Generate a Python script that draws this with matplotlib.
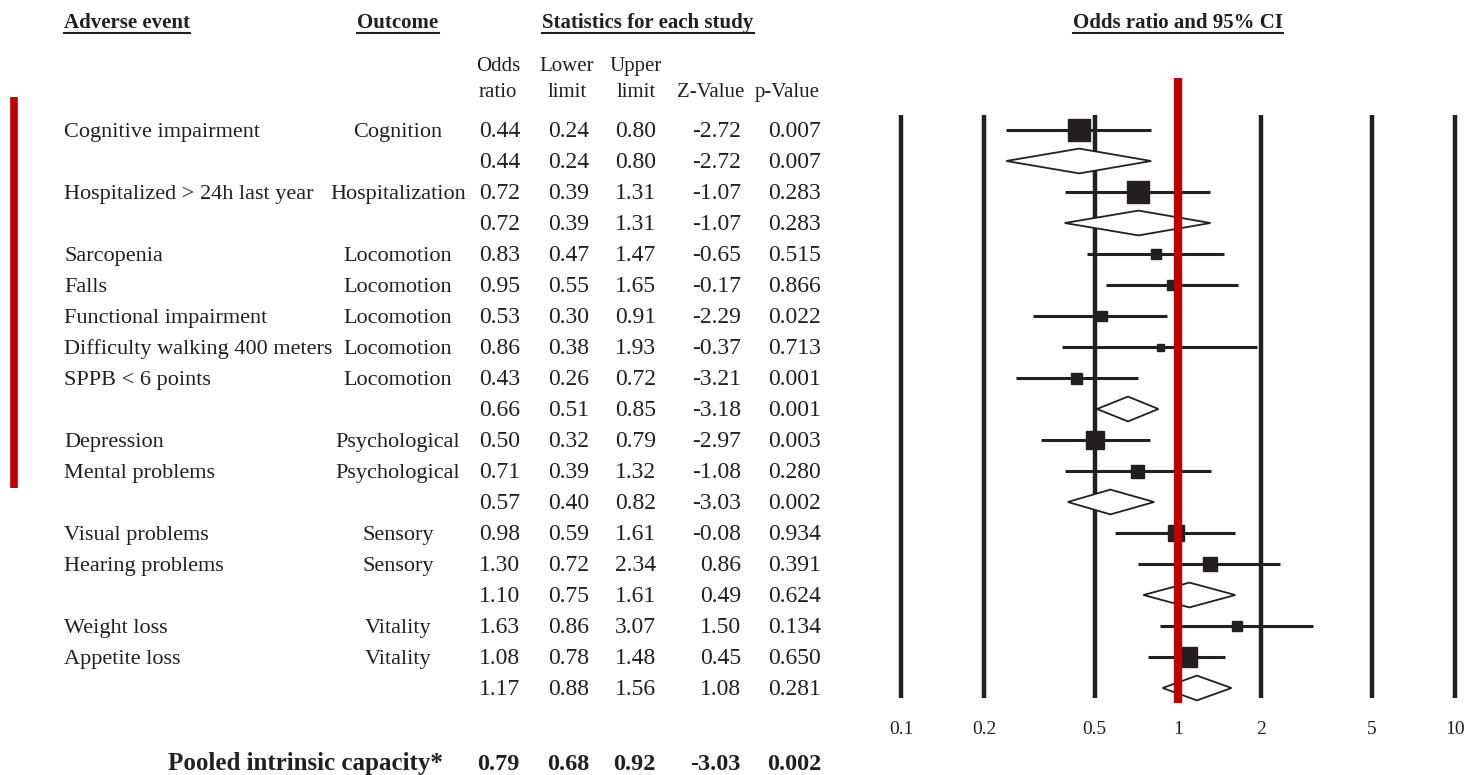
import matplotlib
matplotlib.use("Agg")
import matplotlib.pyplot as plt
from matplotlib.lines import Line2D

plt.rcParams["font.family"] = ["Liberation Serif", "DejaVu Serif"]

# one entry per row; empty event name = pooled (diamond) row
events = ["Cognitive impairment", "", "Hospitalized > 24h last year", "",
          "Sarcopenia", "Falls", "Functional impairment",
          "Difficulty walking 400 meters", "SPPB < 6 points", "",
          "Depression", "Mental problems", "",
          "Visual problems", "Hearing problems", "",
          "Weight loss", "Appetite loss", ""]
outcomes = ["Cognition", "", "Hospitalization", "",
            "Locomotion", "Locomotion", "Locomotion", "Locomotion", "Locomotion", "",
            "Psychological", "Psychological", "",
            "Sensory", "Sensory", "",
            "Vitality", "Vitality", ""]
odds = [0.44, 0.44, 0.72, 0.72, 0.83, 0.95, 0.53, 0.86, 0.43, 0.66,
        0.50, 0.71, 0.57, 0.98, 1.30, 1.10, 1.63, 1.08, 1.17]
lower = [0.24, 0.24, 0.39, 0.39, 0.47, 0.55, 0.30, 0.38, 0.26, 0.51,
         0.32, 0.39, 0.40, 0.59, 0.72, 0.75, 0.86, 0.78, 0.88]
upper = [0.80, 0.80, 1.31, 1.31, 1.47, 1.65, 0.91, 1.93, 0.72, 0.85,
         0.79, 1.32, 0.82, 1.61, 2.34, 1.61, 3.07, 1.48, 1.56]
zvals = [-2.72, -2.72, -1.07, -1.07, -0.65, -0.17, -2.29, -0.37, -3.21, -3.18,
         -2.97, -1.08, -3.03, -0.08, 0.86, 0.49, 1.50, 0.45, 1.08]
pvals = [0.007, 0.007, 0.283, 0.283, 0.515, 0.866, 0.022, 0.713, 0.001, 0.001,
         0.003, 0.280, 0.002, 0.934, 0.391, 0.624, 0.134, 0.650, 0.281]
# relative study weight (box size)
weights = [23, 0, 23, 0, 10, 10, 10, 7, 11, 0, 18, 13, 0, 16, 14, 0, 10, 20, 0]

overall_label = "Pooled intrinsic capacity*"
overall = [0.79, 0.68, 0.92, -3.03, 0.002]

ticks = [0.1, 0.2, 0.5, 1, 2, 5, 10]
tick_labels = ["0.1", "0.2", "0.5", "1", "2", "5", "10"]

W, H = 1470, 775
INK = "#231f20"
RED = "#c00000"
FS = 16      # row labels
FSN = 17     # numbers
FSH = 15     # headers

fig = plt.figure(figsize=(W / 100, H / 100), dpi=100)

# rows are 31px apart, first row centred at y=130px
def r_of(py):
    return (py - 130) / 31.0

def lx(px):
    return 10 ** (-1 + (px - 901) / 277.0)

tab = fig.add_axes([0, 0, 1, 1])
tab.set_xlim(0, W)
tab.set_ylim(r_of(H), r_of(0))
tab.axis("off")

# headers
hdrs = [("Adverse event", 64, "left"), ("Outcome", 398, "center"),
        ("Statistics for each study", 648, "center"),
        ("Odds ratio and 95% CI", 1178, "center")]
hdr_texts = []
for s, x, ha in hdrs:
    hdr_texts.append(tab.text(x, r_of(28), s, ha=ha, va="baseline", color=INK,
                              fontsize=FSH, fontweight="bold"))

sub = [("Odds\nratio", 498), ("Lower\nlimit", 567), ("Upper\nlimit", 636)]
for s, x in sub:
    top, bot = s.split("\n")
    tab.text(x, r_of(71), top, ha="center", va="baseline", fontsize=FSH, color=INK)
    tab.text(x, r_of(97), bot, ha="center", va="baseline", fontsize=FSH, color=INK)
tab.text(711, r_of(97), "Z-Value", ha="center", va="baseline", fontsize=FSH, color=INK)
tab.text(787, r_of(97), "p-Value", ha="center", va="baseline", fontsize=FSH, color=INK)

# table body
off = 0.23
num_x = [520, 589, 656, 741, 821]
for i in range(len(odds)):
    y = i + off
    if events[i]:
        tab.text(64, y, events[i], ha="left", va="baseline", fontsize=FS, color=INK)
    if outcomes[i]:
        tab.text(398, y, outcomes[i], ha="center", va="baseline", fontsize=FS, color=INK)
    vals = [f"{odds[i]:.2f}", f"{lower[i]:.2f}", f"{upper[i]:.2f}",
            f"{zvals[i]:.2f}", f"{pvals[i]:.3f}"]
    for x, v in zip(num_x, vals):
        tab.text(x, y, v, ha="right", va="baseline", fontsize=FSN, color=INK)

yb = r_of(770)
tab.text(443, yb, overall_label, ha="right", va="baseline", fontsize=18,
         fontweight="bold", color=INK)
for x, v, fmt in zip(num_x, overall, ["{:.2f}", "{:.2f}", "{:.2f}", "{:.2f}", "{:.3f}"]):
    tab.text(x, yb, fmt.format(v), ha="right", va="baseline", fontsize=17.5,
             fontweight="bold", color=INK)

# red marker bar on the left
tab.vlines(14, r_of(97), r_of(488), color=RED, lw=5.5)

# forest plot
fx = fig.add_axes([880 / W, 0, 590 / W, 1])
fx.set_xscale("log")
fx.set_xlim(lx(880), lx(1470))
fx.set_ylim(r_of(H), r_of(0))
fx.axis("off")

fx.vlines([t for t in ticks if t != 1], r_of(115), r_of(698), color=INK, lw=3.2, zorder=1)
for t, lab in zip(ticks, tick_labels):
    fx.text(t, r_of(734), lab, ha="center", va="baseline", fontsize=14, color=INK)

for i in range(len(odds)):
    if events[i]:
        fx.plot([lower[i], upper[i]], [i, i], color=INK, lw=2.2, solid_capstyle="butt", zorder=2)
        fx.plot(odds[i], i, marker="s", ms=weights[i] * 0.72, color=INK, zorder=3)
    else:
        fx.fill([lower[i], odds[i], upper[i], odds[i]], [i, i - 0.4, i, i + 0.4],
                facecolor="white", edgecolor=INK, lw=1.3, zorder=3)

fx.vlines(1, r_of(78), r_of(703), color=RED, lw=6, zorder=5)

# underline headers
fig.canvas.draw()
rend = fig.canvas.get_renderer()
for t in hdr_texts:
    bb = t.get_window_extent(rend)
    yline = (H - 33) / H
    fig.add_artist(Line2D([bb.x0 / W, bb.x1 / W], [yline, yline], color=INK, lw=1.5))

fig.savefig("out.png", dpi=100)
